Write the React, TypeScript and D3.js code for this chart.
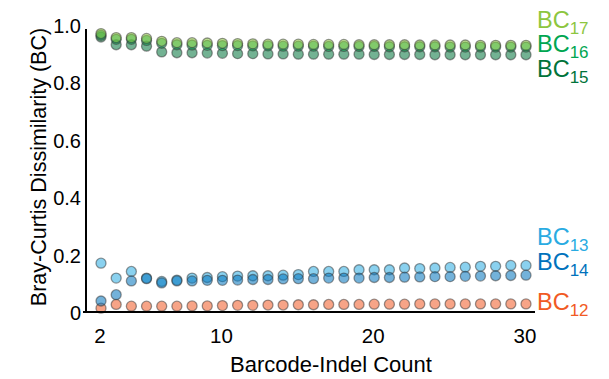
import React from "react";
import * as d3 from "d3";

const counts = d3.range(2, 31);
const xTicks = [2, 10, 20, 30];
const yTicks = [0, 0.2, 0.4, 0.6, 0.8, 1.0];

const bc12 = [0.015, 0.028, 0.022, 0.022, 0.022, 0.022, 0.023, 0.023, 0.024, 0.025, 0.025, 0.026, 0.026, 0.027, 0.027, 0.028, 0.028, 0.028, 0.029, 0.029, 0.029, 0.03, 0.03, 0.03, 0.03, 0.03, 0.03, 0.03, 0.03];
const bc13 = [0.172, 0.12, 0.143, 0.12, 0.108, 0.113, 0.12, 0.122, 0.125, 0.127, 0.128, 0.128, 0.13, 0.132, 0.143, 0.143, 0.143, 0.149, 0.149, 0.149, 0.155, 0.153, 0.155, 0.157, 0.158, 0.161, 0.161, 0.164, 0.164];
const bc14 = [0.04, 0.062, 0.11, 0.118, 0.103, 0.11, 0.11, 0.112, 0.112, 0.113, 0.115, 0.115, 0.117, 0.118, 0.118, 0.12, 0.12, 0.12, 0.122, 0.122, 0.123, 0.124, 0.125, 0.125, 0.126, 0.127, 0.128, 0.129, 0.13];
const bc15 = [0.96, 0.933, 0.933, 0.928, 0.908, 0.905, 0.905, 0.904, 0.903, 0.902, 0.902, 0.901, 0.901, 0.9, 0.9, 0.9, 0.9, 0.9, 0.899, 0.899, 0.899, 0.899, 0.898, 0.898, 0.898, 0.898, 0.898, 0.898, 0.898];
const bc16 = [0.966, 0.952, 0.952, 0.948, 0.938, 0.933, 0.932, 0.931, 0.93, 0.93, 0.929, 0.929, 0.928, 0.928, 0.928, 0.927, 0.927, 0.927, 0.927, 0.926, 0.926, 0.926, 0.926, 0.925, 0.925, 0.925, 0.925, 0.925, 0.925];
const bc17 = [0.972, 0.958, 0.958, 0.955, 0.945, 0.94, 0.94, 0.939, 0.938, 0.937, 0.936, 0.935, 0.935, 0.935, 0.934, 0.934, 0.934, 0.933, 0.933, 0.933, 0.933, 0.932, 0.932, 0.932, 0.932, 0.931, 0.931, 0.931, 0.931];

const seriesNames = ["12", "13", "14", "15", "16", "17"];
const seriesValues = [bc12, bc13, bc14, bc15, bc16, bc17];
const seriesColors = ["#F15A24", "#29ABE2", "#0072BC", "#00733A", "#00A651", "#8DC63F"];
const labelValues = [0.044, 0.269, 0.183, 0.855, 0.942, 1.026];

const FONT = "Liberation Sans, Arial, Helvetica, sans-serif";

export default function App() {
  const width = 609;
  const height = 379;
  const x = d3.scaleLinear().domain([2, 30]).range([101, 526]);
  const y = d3.scaleLinear().domain([0, 1]).range([312.5, 25.5]);

  return (
    <svg width={width} height={height} style={{ position: "absolute", left: 0, top: 0, background: "#fff" }} fontFamily={FONT}>
      {seriesValues.map((vals, si) => (
        <g key={si}>
          {vals.map((v, i) => (
            <circle
              key={i}
              cx={x(counts[i])}
              cy={y(v)}
              r={5}
              fill={seriesColors[si]}
              fillOpacity={0.55}
              stroke="#333"
              strokeOpacity={0.5}
              strokeWidth={1.3}
            />
          ))}
        </g>
      ))}
      <line x1={86} x2={86} y1={29} y2={313} stroke="#000" strokeWidth={2} />
      <line x1={83} x2={535} y1={312} y2={312} stroke="#000" strokeWidth={2} />
      {xTicks.map((t) => (
        <text key={t} x={x(t) - 1} y={343} fontSize={20.5} textAnchor="middle" fill="#000">
          {t}
        </text>
      ))}
      {yTicks.map((t) => (
        <text key={t} x={81} y={y(t) + 7.5} fontSize={20} textAnchor="end" fill="#000">
          {t === 0 ? "0" : t.toFixed(1)}
        </text>
      ))}
      <text x={331} y={372} fontSize={22} textAnchor="middle" fill="#000">
        Barcode-Indel Count
      </text>
      <text transform={`translate(46,167) rotate(-90)`} fontSize={21.5} textAnchor="middle" fill="#000">
        Bray-Curtis Dissimilarity (BC)
      </text>
      {seriesNames.map((n, si) => (
        <text key={n} x={537} y={y(labelValues[si]) + 10} fill={seriesColors[si]} fontSize={23.5}>
          BC
          <tspan fontSize={17} dy={6}>
            {n}
          </tspan>
        </text>
      ))}
    </svg>
  );
}
